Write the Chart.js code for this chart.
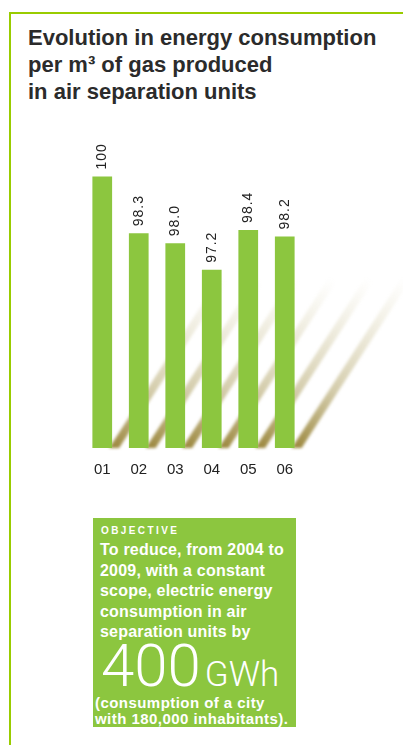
<!DOCTYPE html>
<html>
<head>
<meta charset="utf-8">
<script src="https://cdn.jsdelivr.net/npm/chart.js@4"></script>
<style>
  html, body { margin: 0; padding: 0; background: #fff; }
  body { width: 403px; height: 745px; position: relative; overflow: hidden; font-family: "Liberation Sans", Arial, sans-serif; }
  .frame-top { position: absolute; left: 9px; top: 12px; right: 0; height: 2px; background: #99cc00; }
  .frame-left { position: absolute; left: 9px; top: 12px; bottom: 0; width: 2px; background: #99cc00; }
  #title { position: absolute; left: 28px; top: 24px; font-size: 22px; line-height: 27px; font-weight: bold; color: #2b2b2b; letter-spacing: 0; }
  #wrap { position: absolute; left: 0; top: 0; width: 403px; height: 500px; }
  #box { position: absolute; left: 93px; top: 518px; width: 203px; height: 209px; background: #8cc63f; color: #fff; }
  #box .head { position: absolute; left: 8px; top: 7px; font-size: 10px; font-weight: bold; letter-spacing: 2.4px; }
  #box .body { position: absolute; left: 7px; top: 22px; font-size: 16px; line-height: 20.5px; font-weight: bold; letter-spacing: 0.2px; white-space: nowrap; }
  #box .big { position: absolute; left: 8px; top: 112px; font-family: Roboto, sans-serif; font-weight: 300; white-space: nowrap; }
  #box .big .n { font-size: 60px; }
  #box .big .u { font-size: 35px; }
  #box .foot { position: absolute; left: 2px; top: 177px; font-size: 15px; line-height: 16px; font-weight: bold; letter-spacing: 0.45px; white-space: nowrap; }
</style>
</head>
<body>
<div class="frame-top"></div>
<div class="frame-left"></div>
<div id="title">Evolution in energy consumption<br>per m³ of gas produced<br>in air separation units</div>
<div id="wrap"><canvas id="chart" width="403" height="500"></canvas></div>
<div id="box">
  <div class="head">OBJECTIVE</div>
  <div class="body">To reduce, from 2004 to<br>2009, with a constant<br>scope, electric energy<br>consumption in air<br>separation units by</div>
  <div class="big"><span class="n">400</span> <span class="u">GWh</span></div>
  <div class="foot">(consumption of a city<br>with 180,000 inhabitants).</div>
</div>
<script>
var years = ['01', '02', '03', '04', '05', '06'];
var consumption = [100, 98.3, 98.0, 97.2, 98.4, 98.2];
var valueLabels = ['100', '98.3', '98.0', '97.2', '98.4', '98.2'];

// olive streaks behind the bars
var streaks = {
  id: 'streaks',
  beforeDatasetsDraw: function(chart) {
    var ctx = chart.ctx;
    var base = chart.scales.y.bottom;
    chart.getDatasetMeta(0).data.forEach(function(bar) {
      var p = bar.getProps(['x', 'width'], true);
      var r = p.x + p.width / 2;
      var dx = 110, dy = -170;
      var g = ctx.createLinearGradient(r, base, r + dx, base + dy);
      g.addColorStop(0, 'rgba(150,128,50,0.95)');
      g.addColorStop(0.35, 'rgba(170,155,90,0.5)');
      g.addColorStop(1, 'rgba(200,190,140,0)');
      ctx.save();
      ctx.filter = 'blur(1.5px)';
      ctx.fillStyle = g;
      ctx.beginPath();
      ctx.moveTo(r - 3, base);
      ctx.lineTo(r + 7, base);
      ctx.lineTo(r + 7 + dx, base + dy);
      ctx.lineTo(r - 3 + dx, base + dy);
      ctx.closePath();
      ctx.fill();
      ctx.restore();
    });
  }
};

// rotated value labels above bars
var valueText = {
  id: 'valueText',
  afterDatasetsDraw: function(chart) {
    var ctx = chart.ctx;
    chart.getDatasetMeta(0).data.forEach(function(bar, i) {
      ctx.save();
      ctx.translate(bar.x, bar.y - 7);
      ctx.rotate(-Math.PI / 2);
      ctx.font = '14px "Liberation Sans", Arial, sans-serif';
      ctx.letterSpacing = '1px';
      ctx.fillStyle = '#222';
      ctx.textAlign = 'left';
      ctx.textBaseline = 'middle';
      ctx.fillText(valueLabels[i], 0, 0);
      ctx.restore();
    });
  }
};

var ctx = document.getElementById('chart');
var chart = new Chart(ctx, {
  type: 'bar',
  data: {
    labels: years,
    datasets: [{
      data: consumption,
      backgroundColor: '#8cc63f',
      borderWidth: 0,
      barPercentage: 0.54,
      categoryPercentage: 1
    }]
  },
  options: {
    responsive: false,
    animation: false,
    layout: { padding: { left: 84, right: 100, top: 130, bottom: 8 } },
    scales: {
      y: { display: false, min: 91.85, max: 101.4 },
      x: {
        grid: { display: false, drawTicks: false },
        border: { display: false },
        ticks: { color: '#222', padding: 13, font: { size: 15, family: '"Liberation Sans", Arial, sans-serif' } }
      }
    },
    plugins: {
      legend: { display: false },
      tooltip: { enabled: false }
    }
  },
  plugins: [streaks, valueText]
});
</script>
</body>
</html>
